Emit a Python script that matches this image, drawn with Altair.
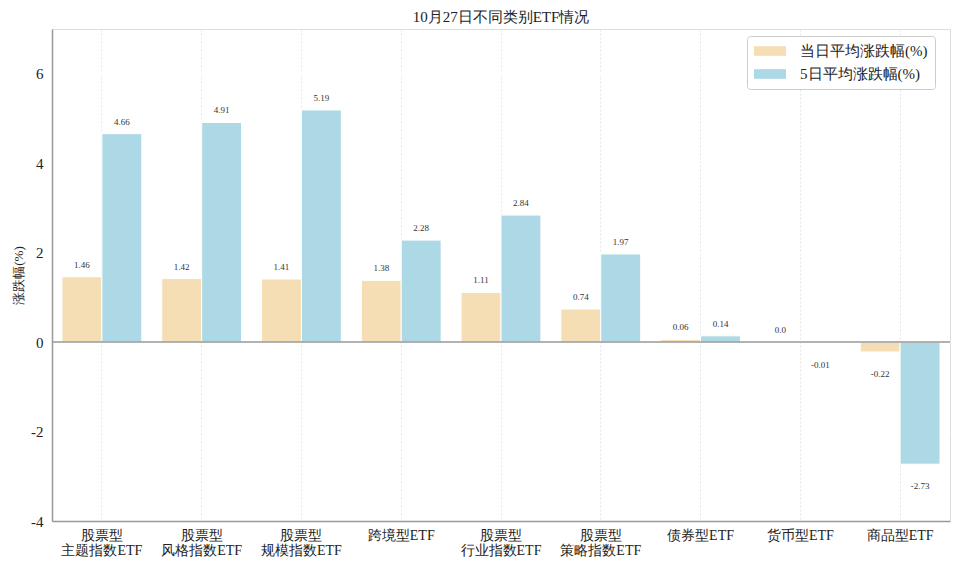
import altair as alt
import pandas as pd

categories = ["股票型\n主题指数ETF", "股票型\n风格指数ETF", "股票型\n规模指数ETF", "跨境型ETF",
              "股票型\n行业指数ETF", "股票型\n策略指数ETF", "债券型ETF", "货币型ETF", "商品型ETF"]
series = ["当日平均涨跌幅(%)", "5日平均涨跌幅(%)"]
day_values = [1.46, 1.42, 1.41, 1.38, 1.11, 0.74, 0.06, 0.0, -0.22]
week_values = [4.66, 4.91, 5.19, 2.28, 2.84, 1.97, 0.14, -0.01, -2.73]
colors = ["#f5deb3", "#add8e6"]
y_ticks = [-4, -2, 0, 2, 4, 6]

rows = []
for c, d, w in zip(categories, day_values, week_values):
    rows.append({"cat": c, "series": series[0], "value": d, "label": str(d)})
    rows.append({"cat": c, "series": series[1], "value": w, "label": str(w)})
df = pd.DataFrame(rows)

FONT = "Liberation Serif"

x_enc = alt.X("cat:N", sort=categories, title=None,
              scale=alt.Scale(paddingInner=0, paddingOuter=0),
              axis=alt.Axis(labelAngle=0, labelExpr="split(datum.label, '\\n')",
                            ticks=False, labelPadding=7, labelFontSize=14, labelLineHeight=15,
                            labelColor="#222", labelFont=FONT, bandPosition=0.5,
                            grid=True, gridColor="#e6e6e6", gridDash=[2, 2], gridWidth=1,
                            domainColor="#999", domainWidth=1.5))
xo_enc = alt.XOffset("series:N", sort=series,
                     scale=alt.Scale(paddingInner=0, paddingOuter=0.25))
y_scale = alt.Scale(domain=[-4, 7], nice=False, zero=False)

bars = alt.Chart(df).mark_bar(stroke="white", strokeWidth=1).encode(
    x=x_enc,
    xOffset=xo_enc,
    y=alt.Y("value:Q", scale=y_scale, title="涨跌幅(%)",
            axis=alt.Axis(values=y_ticks, ticks=False, labelPadding=9, labelFontSize=15,
                          labelExpr="toString(datum.value)",
                          labelColor="#222", labelFont=FONT, titleFont=FONT, titleFontSize=13,
                          titleFontWeight="normal", titleColor="#222", titlePadding=5,
                          grid=True, gridColor="white", gridWidth=1,
                          domainColor="#999", domainWidth=1.5)),
    color=alt.Color("series:N", sort=series,
                    scale=alt.Scale(domain=series, range=colors),
                    legend=alt.Legend(title=None, orient="none", legendX=695, legendY=7,
                                      symbolType="M-2,-0.6H2V0.6H-2Z", symbolSize=256,
                                      symbolOffset=8,
                                      symbolStrokeWidth=0, labelFontSize=15, labelFont=FONT,
                                      labelColor="#222", rowPadding=7, labelOffset=22,
                                      padding=7, strokeColor="#ccc", fillColor="white",
                                      cornerRadius=3)),
)

pos_text = alt.Chart(df).transform_filter("datum.value >= 0").mark_text(
    dy=-12, fontSize=9, font=FONT, color="#333").encode(
    x=alt.X("cat:N", sort=categories), xOffset=xo_enc,
    y=alt.Y("value:Q", scale=y_scale), text="label:N")

neg_text = alt.Chart(df).transform_filter("datum.value < 0").mark_text(
    dy=22, fontSize=9, font=FONT, color="#333").encode(
    x=alt.X("cat:N", sort=categories), xOffset=xo_enc,
    y=alt.Y("value:Q", scale=y_scale), text="label:N")

zero = alt.Chart(pd.DataFrame({"z": [0]})).mark_rule(color="#999", strokeWidth=1.5).encode(
    y=alt.Y("z:Q", scale=y_scale))

chart = alt.layer(bars, zero, pos_text, neg_text).properties(
    width=898, height=492,
    title=alt.TitleParams("10月27日不同类别ETF情况", fontSize=15, font=FONT,
                          fontWeight="normal", color="#222", offset=4),
    autosize=alt.AutoSizeParams(type="none"),
    padding={"left": 44, "top": 21, "right": 2, "bottom": 38},
).configure_view(fill="#f4f4f4", stroke=None).configure(background="white")

chart.save("out.html", embed_options={"renderer": "svg", "actions": False})
